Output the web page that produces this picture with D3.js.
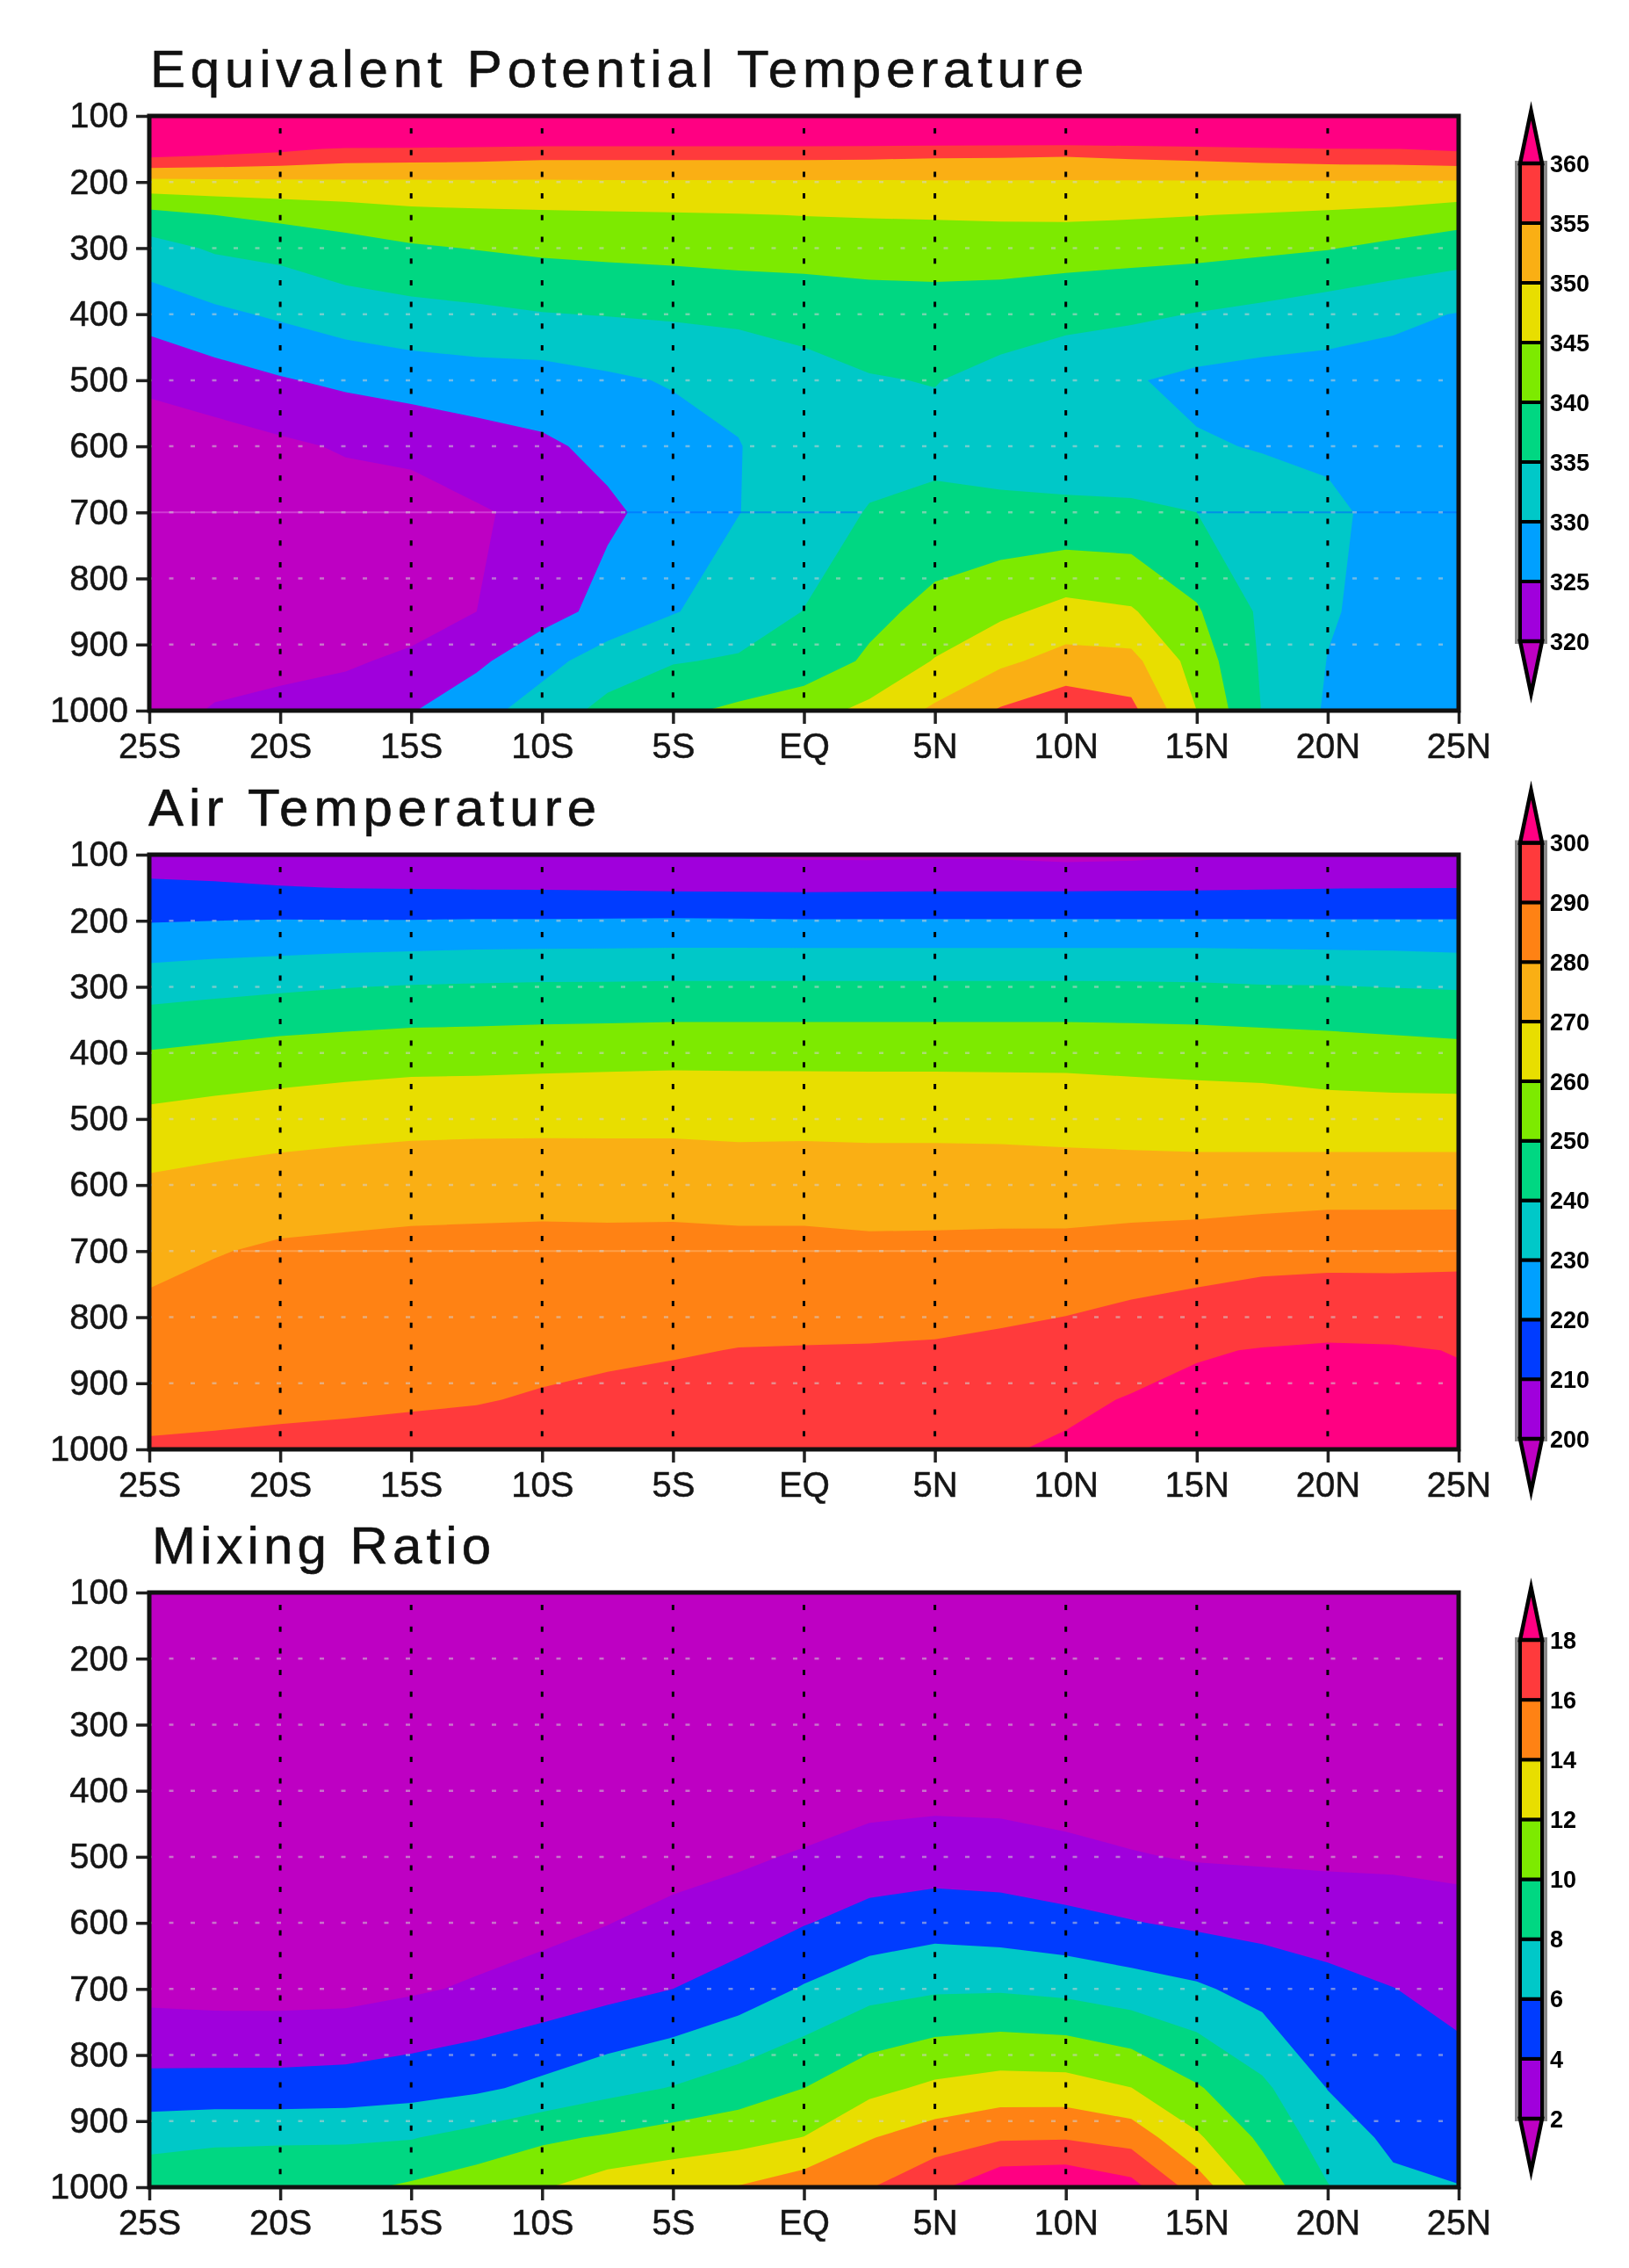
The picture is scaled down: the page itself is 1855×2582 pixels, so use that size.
<!DOCTYPE html>
<html>
<head>
<meta charset="utf-8">
<script src="https://cdn.jsdelivr.net/npm/d3@7"></script>
<style>
    html, body { margin: 0; background: #fff; }
    svg { display: block; filter: blur(0.6px); }
</style>
</head>
<body>
<svg id="chart"></svg>
<script>
// grid of the data: pressure levels (top to bottom) and latitudes
const levels = [100, 150, 200, 250, 300, 400, 500, 600, 700, 850, 925, 1000];
const lats = [-25, -22.5, -20, -17.5, -15, -12.5, -10, -7.5, -5, -2.5, 0, 2.5, 5, 7.5, 10, 12.5, 15, 17.5, 20, 22.5, 25];

const latTicks = [-25, -20, -15, -10, -5, 0, 5, 10, 15, 20, 25];
const latLabels = ["25S", "20S", "15S", "10S", "5S", "EQ", "5N", "10N", "15N", "20N", "25N"];
const pressureTicks = [100, 200, 300, 400, 500, 600, 700, 800, 900, 1000];

// one line per latitude, values follow the levels array
const thetaE = [
    [385, 363.9, 348.5, 338.3, 333.1, 326.9, 321, 317.3, 315.5, 316, 317, 318.5],
    [385, 362.6, 348.8, 340, 335.6, 329, 322.9, 317.7, 316.5, 317, 318.5, 320.3],
    [385, 361.2, 349, 341.2, 336.5, 330.7, 324.6, 319.1, 316.8, 316.5, 318.5, 321.5],
    [385, 359.3, 349.3, 342.1, 338.2, 332.5, 326, 320.5, 317.5, 316.5, 319.2, 323],
    [385, 359, 349.3, 343.5, 339.4, 333.4, 327.2, 321.1, 318, 317.1, 321.2, 324.7],
    [385, 358.6, 349.4, 343.9, 340.2, 334, 327.85, 322.8, 319.5, 320, 324, 328.3],
    [385, 357.8, 349.4, 344.2, 340.9, 334.8, 327.9, 324.2, 321.2, 323, 328.4, 332.2],
    [385, 357.8, 349.5, 344.4, 341.3, 335.2, 329.2, 326.2, 324.2, 326.6, 332.3, 336.5],
    [385, 357.8, 349.5, 344.6, 341.6, 335.6, 330.4, 328, 326.8, 329.7, 334.7, 339],
    [385, 357.8, 349.5, 344.8, 341.9, 336.3, 330.65, 329.9, 329.9, 332.4, 335.5, 341],
    [385, 357.8, 349.5, 345.1, 341.75, 337.25, 332.75, 331.5, 332.5, 335.1, 337, 343],
    [385, 357.6, 349.5, 345.3, 342.2, 337.6, 334.7, 333.2, 335.3, 338.6, 340.8, 346.3],
    [385, 357.1, 349.6, 345.5, 342.1, 338, 335.2, 333.4, 336.5, 341.5, 345.3, 350.9],
    [385, 357, 349.6, 345.7, 342.1, 337.7, 333.3, 332.5, 336.3, 344, 349, 355.5],
    [385, 356.7, 349.6, 345.8, 342, 336.7, 331.4, 332, 336.1, 346.5, 351.8, 358.2],
    [385, 357.4, 349.6, 345.5, 341.75, 335.9, 330.4, 331.4, 336, 345.5, 351.5, 356.3],
    [385, 358.1, 349.6, 345.1, 341.55, 334.8, 328.8, 330.5, 335, 340.5, 342.8, 345],
    [385, 359, 349.6, 344.7, 340.95, 333.7, 328, 329.7, 332.5, 334.1, 334.4, 334.8],
    [385, 359.7, 349.6, 344.2, 340.25, 332.3, 328, 329.2, 330.9, 330.4, 329.9, 329.4],
    [385, 359.9, 349.6, 343.5, 338.8, 331, 327.9, 328, 328.6, 328.5, 328, 327.5],
    [385, 360.8, 349.5, 342, 337.5, 329.8, 327, 326.5, 326.5, 326.5, 326.5, 326.5]
];

const airTemp = [
    [206, 211.5, 219.5, 227.6, 236, 250.6, 262.6, 271.6, 277, 285, 288.35, 290.6],
    [205, 211.2, 220, 228.7, 237.3, 252.2, 264.2, 273.1, 279.5, 286.5, 288.6, 290.85],
    [204, 210.4, 220.4, 229.4, 238.5, 253.9, 265.3, 274.5, 281.3, 287.8, 288.9, 291.15],
    [203, 209.8, 220.3, 230.2, 239.7, 254.9, 266.5, 275, 282, 287.5, 289.15, 291.4],
    [202.5, 209.6, 220.3, 230.8, 240.6, 255.75, 267.5, 275.1, 283, 288.5, 289.45, 291.7],
    [202, 209.4, 220.6, 231.4, 241, 256, 267.5, 275.8, 283, 289, 289.75, 292],
    [202, 209.3, 220.6, 231.6, 241.4, 256.5, 267.7, 275.6, 283.6, 288.8, 290.4, 293.6],
    [201.5, 209, 220.8, 231.8, 241.5, 256.9, 267.7, 275.5, 283.4, 289, 291.3, 294.5],
    [200.5, 208.6, 221, 232, 241.7, 257.3, 267.5, 276, 283.2, 289.4, 292.4, 295.2],
    [199.5, 208.5, 220.8, 232, 241.7, 257.3, 267.2, 275.2, 283, 290.2, 293.2, 296],
    [198.5, 208.3, 220.6, 232, 241.7, 257.3, 267, 276, 282.5, 290.4, 293.7, 296.8],
    [198.3, 208.5, 220.6, 232, 241.7, 257.3, 266.8, 275.6, 281.9, 290.6, 294, 297.2],
    [198.8, 208.7, 220.6, 232, 241.7, 257.3, 266.8, 275.6, 282, 291, 295, 298],
    [198.5, 208.7, 220.6, 232, 241.7, 257.3, 266.5, 275.7, 282.2, 292.2, 296, 299.4],
    [197.5, 208.7, 220.6, 232, 241.7, 257.3, 266.2, 275, 282.6, 293.9, 298.4, 301],
    [198, 208.9, 220.6, 232, 241.6, 256.9, 265.5, 275.1, 283.7, 296.6, 300.5, 303],
    [199.3, 209, 220.6, 232, 241.3, 256.5, 265, 275, 284.6, 299.3, 302, 303.9],
    [199.8, 209.4, 220.6, 231.6, 240.6, 255.8, 265, 275, 286.4, 300.4, 302.3, 304],
    [200.3, 209.7, 220.5, 231.3, 240.4, 254.8, 264.1, 275.9, 286.9, 301.1, 303, 303.6],
    [201.5, 209.8, 220.5, 231, 239.8, 253.8, 264.1, 275.9, 286.9, 300.8, 302.8, 303.4],
    [202, 209.9, 220.5, 230.3, 239.3, 252.8, 264.4, 275.6, 287.5, 299.7, 301.5, 302]
];

const mixRatio = [
    [0, 0, .05, .1, .1, .2, .5, .9, 1.39, 4.65, 7.45, 9.05],
    [0, 0, .05, .1, .1, .2, .5, .9, 1.24, 4.7, 7.75, 9],
    [0, 0, .05, .1, .1, .2, .5, .9, 1.23, 4.72, 7.72, 9.47],
    [0, 0, .05, .1, .1, .2, .5, .9, 1.32, 4.84, 7.74, 9.6],
    [0, 0, .05, .1, .1, .3, .9, 1.4, 1.75, 5.2, 7.9, 10.3],
    [0, 0, .05, .1, .15, .4, .7, 1, 2.25, 5.65, 8.7, 11.1],
    [0, 0, .05, .1, .15, .4, 1, 1.48, 2.72, 6.47, 9.65, 11.85],
    [0, 0, .05, .1, .2, .5, 1.2, 1.95, 3.35, 7.4, 10.22, 13],
    [0, 0, .05, .1, .2, .6, 1.2, 2.6, 4, 8.1, 10.84, 13.5],
    [0, 0, .05, .1, .25, .9, 1.7, 2.98, 4.9, 9, 11.3, 14.1],
    [0, 0, .05, .1, .3, .8, 2.2, 3.9, 6.18, 10, 12.05, 15.1],
    [0, 0, .05, .1, .4, 1.2, 2.85, 4.7, 7.3, 11.45, 13.9, 15.9],
    [0, 0, .05, .1, .5, 1.45, 2.9, 5.2, 7.75, 12.4, 14.95, 17.55],
    [0, 0, .05, .1, .5, 1.35, 2.9, 4.94, 7.8, 12.9, 15.75, 19.6],
    [0, 0, .05, .1, .4, 1.05, 2.58, 4.53, 7.5, 12.85, 15.85, 19.8],
    [0, 0, .05, .1, .3, .9, 2.14, 4.1, 6.9, 12.03, 15.2, 18.7],
    [0, 0, .05, .1, .3, .7, 1.85, 3.65, 6.3, 10.2, 12.3, 15.1],
    [0, 0, .05, .1, .25, .6, 1.75, 3.4, 5.27, 8.4, 9.6, 11.1],
    [0, 0, .05, .1, .25, .55, 1.7, 3.06, 4.63, 5.95, 7, 8.1],
    [0, 0, .05, .1, .2, .5, 1.65, 2.95, 4.03, 5.1, 5.6, 6.4],
    [0, 0, .05, .1, .2, .45, 1.6, 2.55, 3.5, 4.65, 5.3, 6.05]
];

const thetaELevels = [320, 325, 330, 335, 340, 345, 350, 355, 360];
const airTempLevels = [200, 210, 220, 230, 240, 250, 260, 270, 280, 290, 300];
const mixRatioLevels = [2, 4, 6, 8, 10, 12, 14, 16, 18];

const magenta = "#be00c3", purple = "#a000dc", blue = "#003cff", sky = "#00a0ff", teal = "#00c8c8",
    green = "#00d782", lime = "#7dea00", yellow = "#e8de00", gold = "#faaf14", orange = "#ff8214",
    red = "#ff3a3c", pink = "#ff0082";

const thetaEColors = [magenta, purple, sky, teal, green, lime, yellow, gold, red, pink];
const airTempColors = [magenta, purple, blue, sky, teal, green, lime, yellow, gold, orange, red, pink];
const mixRatioColors = [magenta, purple, blue, teal, green, lime, yellow, orange, red, pink];

const panels = [
    {
        title: "Equivalent Potential Temperature", titleX: 171, titleWidth: 1063, top: 132,
        values: thetaE, thresholds: thetaELevels, colors: thetaEColors, barRange: [730, 186],
        // the faint solid line along 700 hPa
        lines: [
            {from: -25, to: -7, color: "rgba(255,190,255,0.3)"},
            {from: -7, to: 2.2, color: "rgba(0,100,255,0.55)"},
            {from: 15, to: 25, color: "rgba(0,100,255,0.55)"}
        ]
    },
    {
        title: "Air Temperature", titleX: 169, titleWidth: 510, top: 973,
        values: airTemp, thresholds: airTempLevels, colors: airTempColors, barRange: [1638, 959.5],
        lines: [{from: -21.5, to: 25, color: "rgba(255,215,170,0.35)"}]
    },
    {
        title: "Mixing Ratio", titleX: 173, titleWidth: 386, top: 1813,
        values: mixRatio, thresholds: mixRatioLevels, colors: mixRatioColors, barRange: [2412, 1867],
        lines: []
    }
];

const pageWidth = 1855, pageHeight = 2582;
const plotLeft = 170, plotWidth = 1491, plotHeight = 677;
const barLeft = 1731, barWidth = 25, tipLength = 60;

const svg = d3.select("#chart").attr("width", pageWidth).attr("height", pageHeight);

const x = d3.scaleLinear().domain([-25, 25]).range([0, plotWidth]);
const y = d3.scaleLinear().domain([100, 1000]).range([0, plotHeight]);

// d3.contours puts grid node i at i + 0.5, these scales turn that back into latitude and pressure
const colToLat = d3.scaleLinear().domain(lats.map((d, i) => i + 0.5)).range(lats);
const rowToLevel = d3.scaleLinear().domain(levels.map((d, i) => i + 0.5)).range(levels);

const contourPath = d3.geoPath(d3.geoTransform({
    point(cx, cy) {
        this.stream.point(x(colToLat(cx)), y(rowToLevel(cy)));
    }
}));
const contours = d3.contours().size([lats.length, levels.length]).smooth(true);

const fontFamily = "'Liberation Sans', Arial, sans-serif";

panels.forEach((panel, idx) => {
    const g = svg.append("g").attr("transform", `translate(${plotLeft}, ${panel.top})`);
    const grid = d3.merge(d3.transpose(panel.values));

    svg.append("clipPath").attr("id", `plot-${idx}`)
        .append("rect").attr("width", plotWidth).attr("height", plotHeight);

    const fills = g.append("g").attr("clip-path", `url(#plot-${idx})`);
    fills.append("rect")
        .attr("width", plotWidth)
        .attr("height", plotHeight)
        .attr("fill", panel.colors[0]);
    panel.thresholds.forEach((t, i) => {
        fills.append("path")
            .attr("d", contourPath(contours.contour(grid, t)))
            .attr("fill", panel.colors[i + 1]);
    });

    // faint solid line at 700
    panel.lines.forEach(l => {
        g.append("line")
            .attr("x1", x(l.from)).attr("x2", x(l.to))
            .attr("y1", y(700)).attr("y2", y(700))
            .attr("stroke", l.color)
            .attr("stroke-width", 2);
    });

    // dotted grid
    pressureTicks.slice(1, -1).forEach(p => {
        g.append("line")
            .attr("x1", 0).attr("x2", plotWidth)
            .attr("y1", y(p)).attr("y2", y(p))
            .attr("stroke", "#d2d2d2")
            .attr("stroke-opacity", 0.55)
            .attr("stroke-width", 2.5)
            .attr("stroke-dasharray", "5 19.5")
            .attr("stroke-dashoffset", 2);
    });
    latTicks.slice(1, -1).forEach(lat => {
        g.append("line")
            .attr("x1", x(lat)).attr("x2", x(lat))
            .attr("y1", 0).attr("y2", plotHeight)
            .attr("stroke", "#000")
            .attr("stroke-width", 3)
            .attr("stroke-dasharray", "6 18.7")
            .attr("stroke-dashoffset", 10.7);
    });

    // axes
    const xAxis = d3.axisBottom(x)
        .tickValues(latTicks)
        .tickFormat((d, i) => latLabels[i])
        .tickSize(15)
        .tickPadding(11);
    const yAxis = d3.axisLeft(y)
        .tickValues(pressureTicks)
        .tickFormat(d3.format("d"))
        .tickSize(15)
        .tickPadding(9);

    g.append("g").attr("class", "x axis").attr("transform", `translate(0, ${plotHeight})`).call(xAxis);
    g.append("g").attr("class", "y axis").call(yAxis);
    g.selectAll(".axis .domain").remove();
    g.selectAll(".axis line").attr("stroke", "#222").attr("stroke-width", 3.5);
    g.selectAll(".axis text")
        .attr("font-family", fontFamily)
        .attr("font-size", 40)
        .attr("fill", "#151515")
        .attr("stroke", "#151515")
        .attr("stroke-width", 0.5);

    g.append("rect")
        .attr("width", plotWidth)
        .attr("height", plotHeight)
        .attr("fill", "none")
        .attr("stroke", "#111")
        .attr("stroke-width", 5);

    // title
    svg.append("text")
        .attr("x", panel.titleX)
        .attr("y", panel.top - 33)
        .attr("font-family", fontFamily)
        .attr("font-size", 60)
        .attr("fill", "#111")
        .attr("stroke", "#111")
        .attr("stroke-width", 0.6)
        .attr("textLength", panel.titleWidth)
        .attr("lengthAdjust", "spacing")
        .text(panel.title);

    // colour bar
    const bar = d3.scaleLinear()
        .domain(d3.extent(panel.thresholds))
        .range(panel.barRange);
    const barG = svg.append("g");
    const first = panel.thresholds[0], last = panel.thresholds[panel.thresholds.length - 1];
    const barMid = barLeft + barWidth / 2;

    barG.append("rect")
        .attr("x", barLeft - 3)
        .attr("y", bar(last))
        .attr("width", barWidth + 6)
        .attr("height", bar(first) - bar(last))
        .attr("fill", "none")
        .attr("stroke", "#888")
        .attr("stroke-width", 6);

    panel.thresholds.slice(0, -1).forEach((t, i) => {
        barG.append("rect")
            .attr("x", barLeft)
            .attr("y", bar(panel.thresholds[i + 1]))
            .attr("width", barWidth)
            .attr("height", bar(t) - bar(panel.thresholds[i + 1]))
            .attr("fill", panel.colors[i + 1])
            .attr("stroke", "#000")
            .attr("stroke-width", 4);
    });

    const triangle = d3.line();
    barG.append("path")
        .attr("d", triangle([[barLeft, bar(last)], [barLeft + barWidth, bar(last)], [barMid, bar(last) - tipLength]]) + "Z")
        .attr("fill", panel.colors[panel.colors.length - 1])
        .attr("stroke", "#000")
        .attr("stroke-width", 4.5)
        .attr("stroke-miterlimit", 10);
    barG.append("path")
        .attr("d", triangle([[barLeft, bar(first)], [barLeft + barWidth, bar(first)], [barMid, bar(first) + tipLength]]) + "Z")
        .attr("fill", panel.colors[0])
        .attr("stroke", "#000")
        .attr("stroke-width", 4.5)
        .attr("stroke-miterlimit", 10);

    barG.selectAll("text.bar-label")
        .data(panel.thresholds)
        .join("text")
        .attr("class", "bar-label")
        .attr("x", barLeft + barWidth + 9)
        .attr("y", d => bar(d))
        .attr("dy", "0.36em")
        .attr("font-family", fontFamily)
        .attr("font-weight", "bold")
        .attr("font-size", 27)
        .attr("fill", "#000")
        .text(d => d);
});
</script>
</body>
</html>
